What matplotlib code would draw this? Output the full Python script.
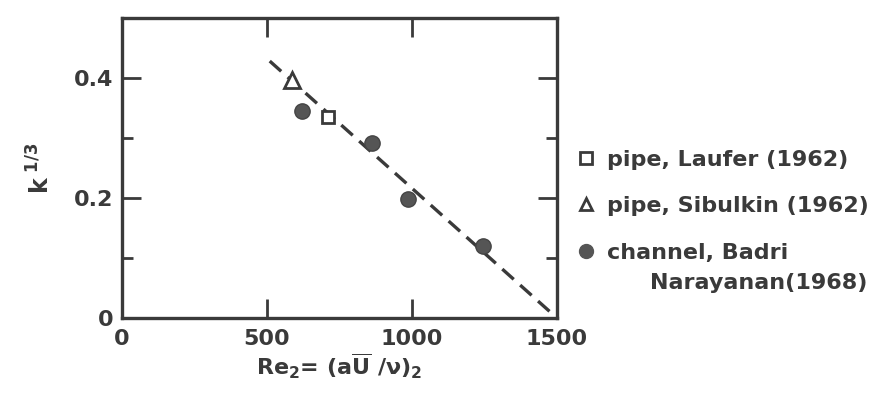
import matplotlib
matplotlib.use("Agg")
import matplotlib.pyplot as plt
from matplotlib.lines import Line2D

plt.rcParams['font.family'] = ['DejaVu Sans']
plt.rcParams['font.weight'] = 'bold'
plt.rcParams['mathtext.fontset'] = 'custom'
plt.rcParams['mathtext.rm'] = 'DejaVu Sans:bold'
plt.rcParams['mathtext.it'] = 'DejaVu Sans:bold'
plt.rcParams['mathtext.default'] = 'rm'

# Data
laufer_re = [710]
laufer_k = [0.335]
sibulkin_re = [588]
sibulkin_k = [0.397]
badri_re = [621, 862, 985, 1245]
badri_k = [0.345, 0.292, 0.198, 0.120]
fit_re = [510, 1500]
fit_k = [0.428, 0.0]

xticks = [0, 500, 1000, 1500]
xticklabels = ['0', '500', '1000', '1500']
yticks = [0, 0.2, 0.4]
yticklabels = ['0', '0.2', '0.4']

ink = '#3a3a3a'
fig = plt.figure(figsize=(8.89, 3.97), dpi=100)
ax = fig.add_axes([0.137, 0.199, 0.4895, 0.756])

ax.plot(fit_re, fit_k, linestyle=(0, (4.6, 2.6)), color=ink, lw=2.4, zorder=2)
ax.plot(laufer_re, laufer_k, 's', ms=9, mfc='white', mec=ink, mew=2, zorder=3, clip_on=False)
ax.plot(sibulkin_re, sibulkin_k, '^', ms=11, mfc='white', mec=ink, mew=2, zorder=3, clip_on=False)
ax.plot(badri_re, badri_k, 'o', ms=11, color='#555555', mec='#444444', zorder=3)

ax.set_xlim(0, 1500)
ax.set_ylim(0, 0.5)
ax.set_xticks(xticks)
ax.set_xticklabels(xticklabels)
ax.set_yticks(yticks)
ax.set_yticklabels(yticklabels)
ax.set_yticks([0.1, 0.3], minor=True)
ax.tick_params(axis='both', which='major', direction='in', length=14, width=2,
               color=ink, labelcolor=ink, labelsize=16, top=True, right=True)
ax.tick_params(axis='both', which='minor', direction='in', length=8, width=2,
               color=ink, right=True)
ax.tick_params(axis='x', which='major', pad=8)
ax.tick_params(axis='y', which='major', pad=6)
for s in ax.spines.values():
    s.set_linewidth(2.4)
    s.set_color(ink)

ax.set_xlabel(r'Re$_2$= (a$\overline{\rm U}$ /$\nu$)$_2$', fontsize=16, color=ink,
              labelpad=2, fontweight='bold')
ax.set_ylabel(r'k$^{\ 1/3}$', fontsize=17, color=ink, labelpad=14, fontweight='bold')

handles = [
    Line2D([], [], ls='none', marker='s', ms=8, mfc='white', mec=ink, mew=2),
    Line2D([], [], ls='none', marker='^', ms=9, mfc='white', mec=ink, mew=2),
    Line2D([], [], ls='none', marker='o', ms=10, color='#555555'),
]
labels = ['pipe, Laufer (1962)', 'pipe, Sibulkin (1962)', 'channel, Badri']
leg = ax.legend(handles, labels, loc='upper left', bbox_to_anchor=(0.985, 0.65),
                frameon=False, fontsize=16, handlelength=0.8, handletextpad=0.55,
                labelspacing=1.2, borderaxespad=0.8)
for t in leg.get_texts():
    t.set_color(ink)
fig.text(0.731, 0.287, 'Narayanan(1968)', fontsize=16, color=ink, va='center', ha='left')

fig.savefig('out.png', dpi=100)
